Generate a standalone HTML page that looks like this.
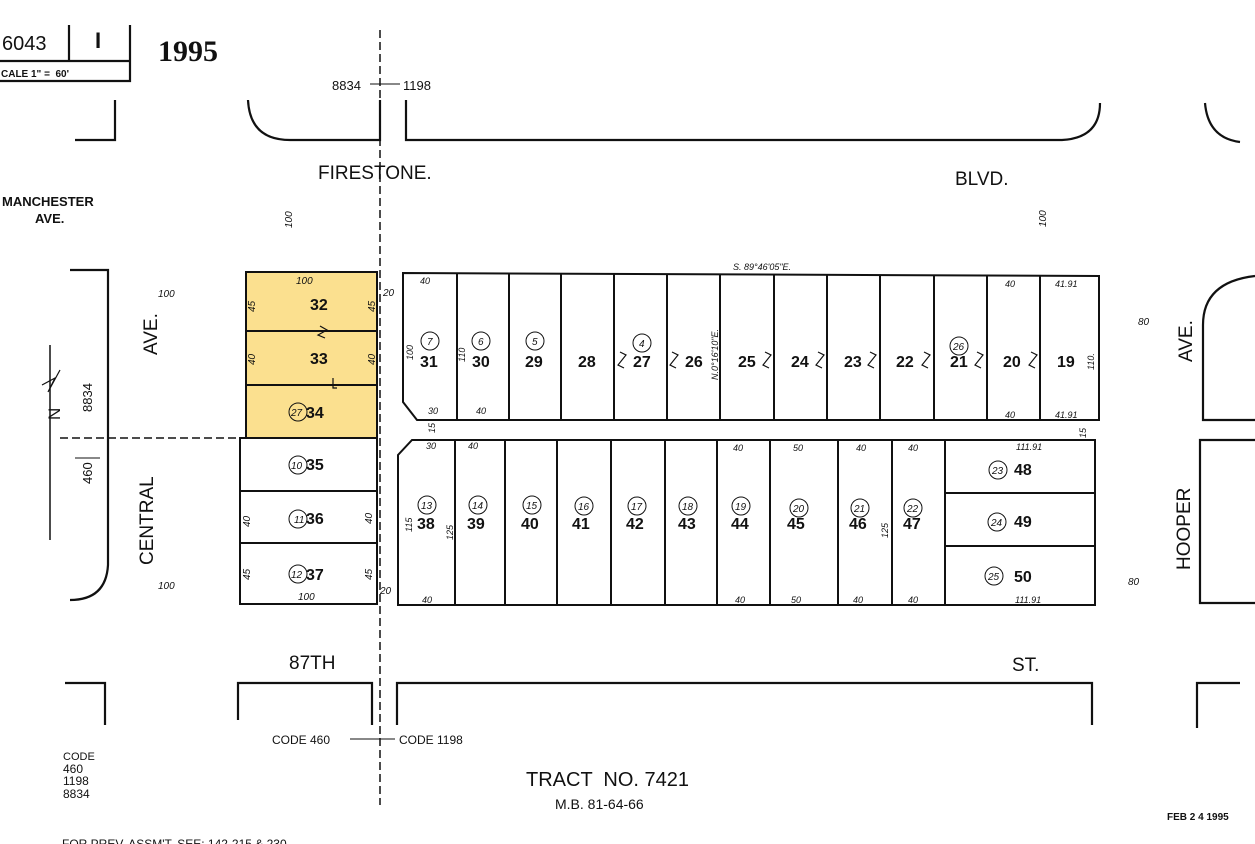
<!DOCTYPE html>
<html><head><meta charset="utf-8"><style>
html,body{margin:0;padding:0;background:#fff}
svg{display:block}
text{font-family:"Liberation Sans",sans-serif;fill:#111}
.s{font-size:9px;font-style:italic}
.n{font-size:16px;font-weight:bold}
.c{font-size:10px;font-style:italic}
</style></head><body>
<svg width="1255" height="844" viewBox="0 0 1255 844" xmlns="http://www.w3.org/2000/svg">
<g fill="none" stroke="#111" stroke-width="2.2">
<path d="M0 61 L130 61 L130 81 L0 81 M69 25 L69 61 M130 25 L130 61"/>
<path d="M115 100 L115 140 L75 140"/>
<path d="M248 100 Q250 140 290 140 L380 140 L380 100"/>
<path d="M406 100 L406 140 L1062 140 Q1100 138 1100 103"/>
<path d="M1205 103 Q1208 138 1240 142"/>
<path d="M70 270 L108 270 L108 565 Q106 600 70 600"/>
<path d="M1255 276 Q1203 282 1203 325 L1203 420 L1255 420"/>
<path d="M1255 440 L1200 440 L1200 603 L1255 603"/>
<path d="M65 683 L105 683 L105 725"/>
<path d="M238 720 L238 683 L372 683 L372 725"/>
<path d="M397 725 L397 683 L1092 683 L1092 725"/>
<path d="M1197 728 L1197 683 L1240 683"/>
</g>
<rect x="246" y="272" width="131" height="166" fill="#fbe08f"/>
<g fill="none" stroke="#111" stroke-width="2">
<path d="M246 272 L377 272 L377 604 L240 604 L240 438 L246 438 Z"/>
<path d="M246 331 L377 331 M246 385 L377 385 M240 438 L377 438 M240 491 L377 491 M240 543 L377 543"/>
<path d="M403 273 L1099 276 L1099 420 L417 420 L403 402 Z"/>
<path d="M457 274 L457 420 M509 274 L509 420 M561 274 L561 420 M614 274 L614 420 M667 274 L667 420 M720 275 L720 420 M774 275 L774 420 M827 275 L827 420 M880 275 L880 420 M934 275 L934 420 M987 275 L987 420 M1040 275 L1040 420"/>
<path d="M412 440 L1095 440 L1095 605 L398 605 L398 455 Z"/>
<path d="M455 440 L455 605 M505 440 L505 605 M557 440 L557 605 M611 440 L611 605 M665 440 L665 605 M717 440 L717 605 M770 440 L770 605 M838 440 L838 605 M892 440 L892 605 M945 440 L945 605 M945 493 L1095 493 M945 546 L1095 546"/>
</g>
<!-- break marks -->
<g fill="none" stroke="#111" stroke-width="1.2">
<path d="M320 326 L327 330 L318 335 L325 338"/>
<path d="M333 378 L333 388 L337 388"/>
<path d="M620 352 L626 355 L618 365 L624 368"/>
<path d="M672 352 L678 355 L670 365 L676 368"/>
<path d="M765 352 L771 355 L763 365 L769 368"/>
<path d="M818 352 L824 355 L816 365 L822 368"/>
<path d="M870 352 L876 355 L868 365 L874 368"/>
<path d="M924 352 L930 355 L922 365 L928 368"/>
<path d="M977 352 L983 355 L975 365 L981 368"/>
<path d="M1031 352 L1037 355 L1029 365 L1035 368"/>
<path d="M42 385 L55 378 L48 392 L60 370"/>
</g>
<g stroke="#111" stroke-width="1.5" stroke-dasharray="8 4" fill="none">
<path d="M380 30 L380 805"/>
<path d="M60 438 L245 438"/>
</g>
<path d="M50 345 L50 540" stroke="#111" stroke-width="1.5"/>
<path d="M75 458 L100 458 M350 739 L395 739 M370 84 L400 84" stroke="#111" stroke-width="1"/>
<text x="2" y="50" style="font-size:20px">6043</text>
<text x="95" y="48" style="font-size:22px;font-weight:bold">I</text>
<text x="1" y="77" style="font-size:10px;font-weight:bold">CALE 1" = &#160;60'</text>
<text x="158" y="61" style="font-family:'Liberation Serif',serif;font-size:30px;font-weight:bold">1995</text>
<text x="332" y="90" style="font-size:13px">8834</text><text x="403" y="90" style="font-size:13px">1198</text>
<text x="318" y="179" style="font-size:19px">FIRESTONE.</text>
<text x="955" y="185" style="font-size:19px">BLVD.</text>
<text x="2" y="206" style="font-size:13px;font-weight:bold">MANCHESTER</text>
<text x="35" y="223" style="font-size:13px;font-weight:bold">AVE.</text>
<text class="c" x="0" y="0" transform="translate(292,228) rotate(-90)">100</text>
<text class="c" x="0" y="0" transform="translate(1046,227) rotate(-90)">100</text>
<text x="0" y="0" transform="translate(157,355) rotate(-90)" style="font-size:19px">AVE.</text>
<text x="0" y="0" transform="translate(153,565) rotate(-90)" style="font-size:19px">CENTRAL</text>
<text x="0" y="0" transform="translate(92,412) rotate(-90)" style="font-size:13px">8834</text>
<text x="0" y="0" transform="translate(92,484) rotate(-90)" style="font-size:13px">460</text>
<text x="0" y="0" transform="translate(60,420) rotate(-90)" style="font-size:17px">N</text>
<text x="0" y="0" transform="translate(1192,362) rotate(-90)" style="font-size:19px">AVE.</text>
<text x="0" y="0" transform="translate(1190,570) rotate(-90)" style="font-size:19px">HOOPER</text>
<text class="c" x="158" y="297">100</text><text class="c" x="158" y="589">100</text>
<text class="c" x="1138" y="325">80</text><text class="c" x="1128" y="585">80</text>
<text class="c" x="383" y="296">20</text><text class="c" x="380" y="594">20</text>
<text class="c" x="296" y="284">100</text><text class="c" x="298" y="600">100</text>
<text class="n" x="310" y="310" fill="#5a4a10">32</text><text class="n" x="310" y="364">33</text>
<text class="n" x="306" y="418">34</text>
<text class="n" x="306" y="470">35</text><text class="n" x="306" y="524">36</text><text class="n" x="306" y="580">37</text>
<g fill="none" stroke="#111" stroke-width="1"><circle cx="298" cy="412" r="9"/><circle cx="298" cy="465" r="9"/><circle cx="298" cy="519" r="9"/><circle cx="298" cy="574" r="9"/></g>
<text class="c" x="291" y="416">27</text><text class="c" x="291" y="469">10</text><text class="c" x="294" y="523">11</text><text class="c" x="291" y="578">12</text>
<text class="n" x="420" y="367">31</text><text class="n" x="472" y="367">30</text><text class="n" x="525" y="367">29</text>
<text class="n" x="578" y="367">28</text><text class="n" x="633" y="367">27</text><text class="n" x="685" y="367">26</text>
<text class="n" x="738" y="367">25</text><text class="n" x="791" y="367">24</text><text class="n" x="844" y="367">23</text>
<text class="n" x="896" y="367">22</text><text class="n" x="950" y="367">21</text><text class="n" x="1003" y="367">20</text><text class="n" x="1057" y="367">19</text>
<g fill="none" stroke="#111" stroke-width="1"><circle cx="430" cy="341" r="9"/><circle cx="481" cy="341" r="9"/><circle cx="535" cy="341" r="9"/><circle cx="642" cy="343" r="9"/><circle cx="959" cy="346" r="9"/></g>
<text class="c" x="427" y="345">7</text><text class="c" x="478" y="345">6</text><text class="c" x="532" y="345">5</text><text class="c" x="639" y="347">4</text><text class="c" x="953" y="350">26</text>
<text class="s" x="420" y="284">40</text><text class="s" x="1005" y="287">40</text><text class="s" x="1055" y="287">41.91</text>
<text class="s" x="428" y="414">30</text><text class="s" x="476" y="414">40</text><text class="s" x="1005" y="418">40</text><text class="s" x="1055" y="418">41.91</text>
<text class="s" x="733" y="270">S. 89°46'05"E.</text>
<text class="s" x="0" y="0" transform="translate(718,380) rotate(-90)">N.0°16'10"E.</text>
<text class="s" x="0" y="0" transform="translate(413,360) rotate(-90)">100</text>
<text class="s" x="0" y="0" transform="translate(465,362) rotate(-90)">110</text>
<text class="s" x="0" y="0" transform="translate(1094,370) rotate(-90)">110.</text>
<text class="s" x="0" y="0" transform="translate(435,433) rotate(-90)">15</text>
<text class="s" x="0" y="0" transform="translate(1086,438) rotate(-90)">15</text>
<text class="n" x="417" y="529">38</text><text class="n" x="467" y="529">39</text><text class="n" x="521" y="529">40</text>
<text class="n" x="572" y="529">41</text><text class="n" x="626" y="529">42</text><text class="n" x="678" y="529">43</text>
<text class="n" x="731" y="529">44</text><text class="n" x="787" y="529">45</text><text class="n" x="849" y="529">46</text><text class="n" x="903" y="529">47</text>
<text class="n" x="1014" y="475">48</text><text class="n" x="1014" y="527">49</text><text class="n" x="1014" y="582">50</text>
<g fill="none" stroke="#111" stroke-width="1">
<circle cx="427" cy="505" r="9"/><circle cx="478" cy="505" r="9"/><circle cx="532" cy="505" r="9"/><circle cx="584" cy="506" r="9"/><circle cx="637" cy="506" r="9"/><circle cx="688" cy="506" r="9"/><circle cx="741" cy="506" r="9"/><circle cx="799" cy="508" r="9"/><circle cx="860" cy="508" r="9"/><circle cx="913" cy="508" r="9"/>
<circle cx="998" cy="470" r="9"/><circle cx="997" cy="522" r="9"/><circle cx="994" cy="576" r="9"/></g>
<text class="c" x="421" y="509">13</text><text class="c" x="472" y="509">14</text><text class="c" x="526" y="509">15</text><text class="c" x="578" y="510">16</text><text class="c" x="631" y="510">17</text><text class="c" x="682" y="510">18</text><text class="c" x="735" y="510">19</text><text class="c" x="793" y="512">20</text><text class="c" x="854" y="512">21</text><text class="c" x="907" y="512">22</text>
<text class="c" x="992" y="474">23</text><text class="c" x="991" y="526">24</text><text class="c" x="988" y="580">25</text>
<text class="s" x="426" y="449">30</text><text class="s" x="468" y="449">40</text><text class="s" x="733" y="451">40</text><text class="s" x="793" y="451">50</text><text class="s" x="856" y="451">40</text><text class="s" x="908" y="451">40</text><text class="s" x="1016" y="450">111.91</text>
<text class="s" x="422" y="603">40</text><text class="s" x="735" y="603">40</text><text class="s" x="791" y="603">50</text><text class="s" x="853" y="603">40</text><text class="s" x="908" y="603">40</text><text class="s" x="1015" y="603">111.91</text>
<text class="s" x="0" y="0" transform="translate(412,532) rotate(-90)">115</text>
<text class="s" x="0" y="0" transform="translate(453,540) rotate(-90)">125</text>
<text class="s" x="0" y="0" transform="translate(888,538) rotate(-90)">125</text>
<text class="c" x="0" y="0" transform="translate(255,312) rotate(-90)">45</text>
<text class="c" x="0" y="0" transform="translate(375,312) rotate(-90)">45</text>
<text class="c" x="0" y="0" transform="translate(255,365) rotate(-90)">40</text>
<text class="c" x="0" y="0" transform="translate(375,365) rotate(-90)">40</text>
<text class="c" x="0" y="0" transform="translate(250,527) rotate(-90)">40</text>
<text class="c" x="0" y="0" transform="translate(372,524) rotate(-90)">40</text>
<text class="c" x="0" y="0" transform="translate(250,580) rotate(-90)">45</text>
<text class="c" x="0" y="0" transform="translate(372,580) rotate(-90)">45</text>
<text x="289" y="669" style="font-size:19px">87TH</text>
<text x="1012" y="671" style="font-size:19px">ST.</text>
<text x="272" y="744" style="font-size:12px">CODE 460</text><text x="399" y="744" style="font-size:12px">CODE 1198</text>
<text x="526" y="786" style="font-size:20px">TRACT &#160;NO. 7421</text>
<text x="555" y="809" style="font-size:14px">M.B. 81-64-66</text>
<text x="63" y="760" style="font-size:11px">CODE</text><text x="63" y="773" style="font-size:12px">460</text><text x="63" y="785" style="font-size:12px">1198</text><text x="63" y="798" style="font-size:12px">8834</text>
<text x="1167" y="820" style="font-size:10px;font-weight:bold">FEB 2 4 1995</text>
<text x="62" y="848" style="font-size:12px">FOR PREV. ASSM'T. SEE: 142-215 &amp; 230</text>
</svg>
</body></html>
